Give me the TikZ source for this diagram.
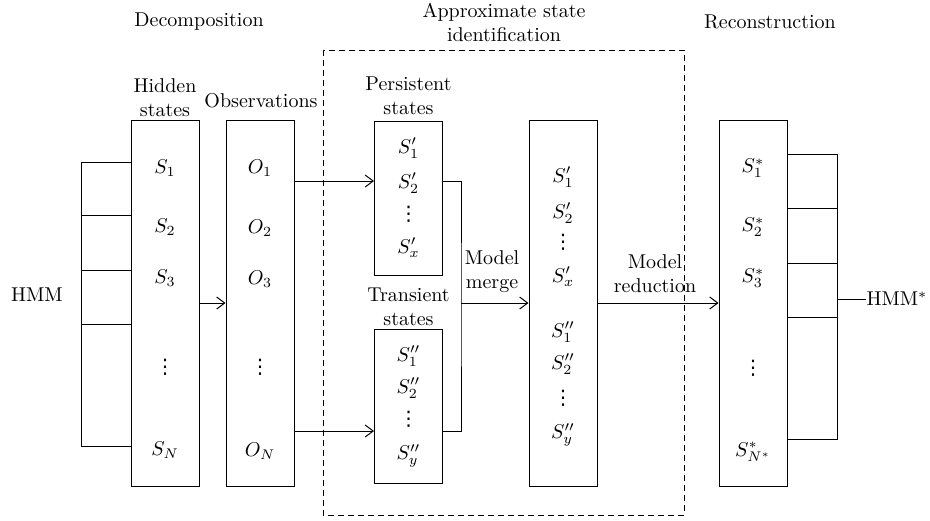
\documentclass[tikz,border=0pt]{standalone}
\usepackage{amssymb}
\usepackage{amsmath}
\usepackage{fontspec}
\usepackage{tikz}
\usetikzlibrary{arrows.meta}

% vertical dots as one glyph
\newfontfamily\dotsfont{DejaVu Sans}
\newcommand{\coldots}{\hbox{\dotsfont ⋮}}

\begin{document}
\begin{tikzpicture}[x=0.5pt, y=-0.5pt, line width=0.5pt,
  >={Straight Barb[length=4pt,width=6pt]},
  column/.style={draw, minimum width=34pt, inner sep=0pt},
  tallcol/.style={column, minimum height=183pt},
  shortcol/.style={column, minimum height=77pt},
  heading/.style={align=center, inner sep=0pt},
  entry/.style={inner sep=0pt}]

\useasboundingbox (0,0) rectangle (930,520);

% draw headings
\node[heading] (decomp) at (199,22) {Decomposition};
\node[heading] (approx) at (504,22) {Approximate state\\identification};
\node[heading] (recons) at (770,22) {Reconstruction};

% draw the dashed frame
\draw[dash pattern=on 3pt off 2pt] (323,50) coordinate (f_1) rectangle (684,515) coordinate (f_2);

% draw columns
\node[tallcol] (hidden) at (165,303) {};
\node[tallcol] (obs) at (260,303) {};
\node[shortcol] (persist) at (408.5,198) {};
\node[shortcol] (trans) at (408.5,406.5) {};
\node[tallcol] (merged) at (563,303) {};
\node[tallcol] (recon) at (753,303) {};

% column titles
\node[heading] (hiddenlbl) at (165,98) {Hidden\\states};
\node[heading] (obslbl) at (261,101) {Observations};
\node[heading] (persistlbl) at (408.5,96) {Persistent\\states};
\node[heading] (translbl) at (408.5,307) {Transient\\states};
\node[heading] (mergelbl) at (492,272) {Model\\merge};
\node[heading] (reducelbl) at (655,274) {Model\\reduction};

% column entries
\foreach \y/\t [count=\i] in {168/S_1, 227/S_2, 278/S_3, 367/\coldots, 450/S_N}
  \node[entry] (h\i) at (165,\y) {$\t$};
\foreach \y/\t [count=\i] in {168/O_1, 228/O_2, 279/O_3, 367/\coldots, 451/O_N}
  \node[entry] (o\i) at (260,\y) {$\t$};
\foreach \y/\t [count=\i] in {148/S'_1, 183/S'_2, 214/\coldots, 248/S'_x}
  \node[entry] (p\i) at (408.5,\y) {$\t$};
\foreach \y/\t [count=\i] in {356/S''_1, 388/S''_2, 419/\coldots, 456/S''_y}
  \node[entry] (t\i) at (408.5,\y) {$\t$};
\foreach \y/\t [count=\i] in {177/S'_1, 213/S'_2, 242/\coldots, 277/S'_x, 332/S''_1, 364/S''_2, 398/\coldots, 435/S''_y}
  \node[entry] (m\i) at (563,\y) {$\t$};
\foreach \y/\t [count=\i] in {168/S^*_1, 227/S^*_2, 278/S^*_3, 368/\coldots, 452/S^*_{N^*}}
  \node[entry] (r\i) at (753,\y) {$\t$};

% left model
\node (hmm) at (37,295) {HMM};
\coordinate (lt) at (81,162);
\coordinate (lb) at (81,446);
\draw (hidden.west |- lt) -- (lt) -- (lb) -- (hidden.west |- lb);
\foreach \y [count=\i] in {215,270,324} {
  \coordinate (l\i) at (81,\y);
  \draw (l\i) -- (l\i -| hidden.west);
}

% right model
\node[anchor=west, inner sep=0pt] (hmmstar) at (866,299) {HMM$^*$};
\coordinate (rt) at (837,154);
\coordinate (rb) at (837,439);
\draw (recon.east |- rt) -- (rt) -- (rb) -- (recon.east |- rb);
\foreach \y [count=\i] in {208,263,317} {
  \coordinate (r\i) at (837,\y);
  \draw (r\i) -- (r\i -| recon.east);
}
\draw (rt |- hmmstar) -- (hmmstar.west);

% arrows
\coordinate (top) at (300,181);
\coordinate (bot) at (300,431);
\coordinate (mg) at (461,303);
\draw[->] (hidden) -- (obs);
\draw[->] (obs.east |- top) -- (persist.west |- top);
\draw[->] (obs.east |- bot) -- (trans.west |- bot);
\draw (persist.east |- top) -| (mg) |- (trans.east |- bot);
\draw[->] (mg) -- (merged);
\draw[->] (merged) -- (recon);

\end{tikzpicture}
\end{document}
